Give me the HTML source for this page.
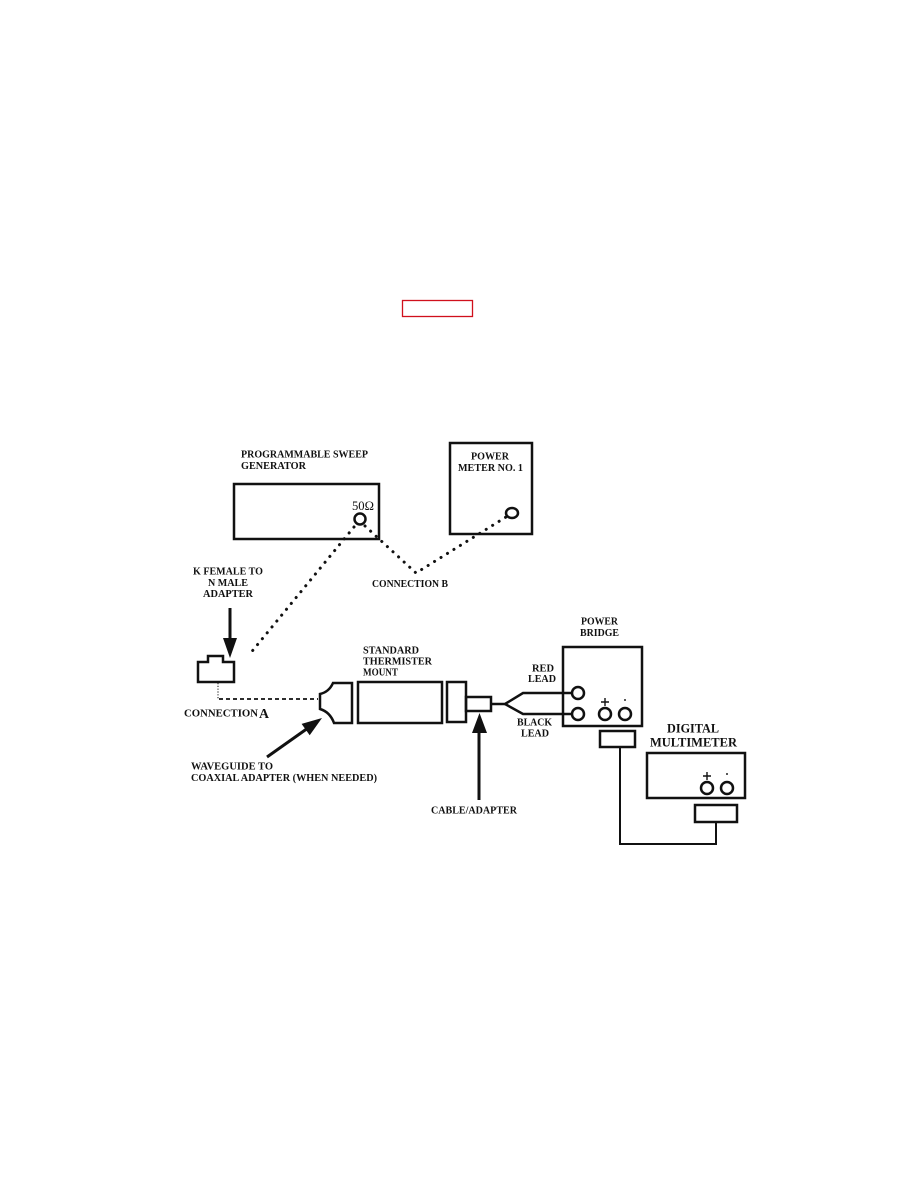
<!DOCTYPE html>
<html>
<head>
<meta charset="utf-8">
<style>
html,body{margin:0;padding:0;background:#fff;}
svg{display:block;}
text{font-family:"Liberation Serif",serif;font-weight:bold;font-size:10px;fill:#111;}
</style>
</head>
<body>
<svg width="918" height="1188" viewBox="0 0 918 1188" xmlns="http://www.w3.org/2000/svg">
<rect x="0" y="0" width="918" height="1188" fill="#fff"/>
<!-- red box -->
<rect x="402.5" y="300.5" width="70" height="16" fill="none" stroke="#d0101c" stroke-width="1.3"/>

<g fill="none" stroke="#111" stroke-width="2.5">
  <!-- sweep generator -->
  <rect x="234" y="484" width="145" height="55"/>
  <circle cx="360" cy="519" r="5.5"/>
  <!-- power meter -->
  <rect x="450" y="443" width="82" height="91"/>
  <ellipse cx="512" cy="513" rx="6" ry="5"/>
  <!-- K female adapter -->
  <path d="M198,682 L198,662 L208,662 L208,656 L223,656 L223,662 L234,662 L234,682 Z"/>
  <!-- waveguide adapter -->
  <path d="M333,683 L352,683 L352,723 L334,723 Q330,712 320,709 L320,694 Q329,692 333,683 Z"/>
  <!-- thermister mount -->
  <rect x="358" y="682" width="84" height="41"/>
  <rect x="447" y="682" width="19" height="40"/>
  <rect x="466" y="697" width="25" height="14"/>
  <!-- leads -->
  <path d="M491,704 L505,704 L523,693 L571,693"/>
  <path d="M505,704 L523,714 L571,714"/>
  <!-- power bridge -->
  <rect x="563" y="647" width="79" height="79"/>
  <circle cx="578" cy="693" r="6"/>
  <circle cx="578" cy="714" r="6"/>
  <circle cx="605" cy="714" r="6"/>
  <circle cx="625" cy="714" r="6"/>
  <rect x="600" y="731" width="35" height="16"/>
  <!-- DMM -->
  <rect x="647" y="753" width="98" height="45"/>
  <circle cx="707" cy="788" r="6"/>
  <circle cx="727" cy="788" r="6"/>
  <rect x="695" y="805" width="42" height="17"/>
  <!-- cable between -->
  <path d="M620,747 L620,844 L716,844 L716,822" stroke-width="2"/>
  <!-- arrows shafts -->
  <path d="M230,608 L230,642" stroke-width="3"/>
  <path d="M479,730 L479,800" stroke-width="3"/>
  <path d="M267,757 L308,728" stroke-width="3"/>
</g>

<!-- arrowheads -->
<g fill="#111">
  <polygon points="223,638 237,638 230,658"/>
  <polygon points="472,733 487,733 479.5,713"/>
  <polygon points="322,718 309.7,735.3 301.6,723.9"/>
</g>

<!-- dotted lines -->
<g fill="none" stroke="#111" stroke-width="3" stroke-linecap="round" stroke-dasharray="0.1 7.5">
  <path d="M354,527 L249,655"/>
  <path d="M365,526 L416,573 L506,517"/>
</g>
<!-- connection A -->
<path d="M218,683 L218,699" fill="none" stroke="#111" stroke-width="1" stroke-dasharray="1.2 1.6"/>
<path d="M219,699 L318,699" fill="none" stroke="#111" stroke-width="1.8" stroke-dasharray="4 3"/>

<!-- plus/minus -->
<g fill="none" stroke="#111" stroke-width="1.4">
  <path d="M601,702 L609,702 M605,698 L605,706"/>
  <path d="M624,700 L626,700"/>
  <path d="M703,776 L711,776 M707,772 L707,780"/>
  <path d="M726,774 L728,774"/>
</g>

<!-- labels -->
<text x="352" y="510" style="font-weight:normal;font-size:13px" textLength="22" lengthAdjust="spacingAndGlyphs">50Ω</text>

<text x="241" y="457.5" textLength="127" lengthAdjust="spacingAndGlyphs">PROGRAMMABLE SWEEP</text>
<text x="241" y="469" textLength="65" lengthAdjust="spacingAndGlyphs">GENERATOR</text>

<text x="471" y="459.5" textLength="38" lengthAdjust="spacingAndGlyphs">POWER</text>
<text x="458" y="471" textLength="65" lengthAdjust="spacingAndGlyphs">METER NO. 1</text>

<text x="193" y="574.5" textLength="70" lengthAdjust="spacingAndGlyphs">K FEMALE TO</text>
<text x="208" y="586" textLength="40" lengthAdjust="spacingAndGlyphs">N MALE</text>
<text x="203" y="597" textLength="50" lengthAdjust="spacingAndGlyphs">ADAPTER</text>

<text x="372" y="587" textLength="76" lengthAdjust="spacingAndGlyphs">CONNECTION B</text>

<text x="363" y="653.5" textLength="56" lengthAdjust="spacingAndGlyphs">STANDARD</text>
<text x="363" y="664.5" textLength="69" lengthAdjust="spacingAndGlyphs">THERMISTER</text>
<text x="363" y="675.5" textLength="35" lengthAdjust="spacingAndGlyphs">MOUNT</text>

<text x="184" y="716.5" textLength="74" lengthAdjust="spacingAndGlyphs">CONNECTION</text>
<text x="259" y="718" style="font-size:14px" textLength="10" lengthAdjust="spacingAndGlyphs">A</text>

<text x="191" y="769.5" textLength="82" lengthAdjust="spacingAndGlyphs">WAVEGUIDE TO</text>
<text x="191" y="781" textLength="186" lengthAdjust="spacingAndGlyphs">COAXIAL ADAPTER (WHEN NEEDED)</text>

<text x="431" y="813.5" textLength="86" lengthAdjust="spacingAndGlyphs">CABLE/ADAPTER</text>

<text x="581" y="624.5" textLength="37" lengthAdjust="spacingAndGlyphs">POWER</text>
<text x="580" y="636" textLength="39" lengthAdjust="spacingAndGlyphs">BRIDGE</text>

<text x="532" y="671.5" textLength="22" lengthAdjust="spacingAndGlyphs">RED</text>
<text x="528" y="682" textLength="28" lengthAdjust="spacingAndGlyphs">LEAD</text>

<text x="517" y="725.5" textLength="35" lengthAdjust="spacingAndGlyphs">BLACK</text>
<text x="521" y="736.5" textLength="28" lengthAdjust="spacingAndGlyphs">LEAD</text>

<text x="667" y="732.5" style="font-size:13px" textLength="52" lengthAdjust="spacingAndGlyphs">DIGITAL</text>
<text x="650" y="746.5" style="font-size:13px" textLength="87" lengthAdjust="spacingAndGlyphs">MULTIMETER</text>
</svg>
</body>
</html>
